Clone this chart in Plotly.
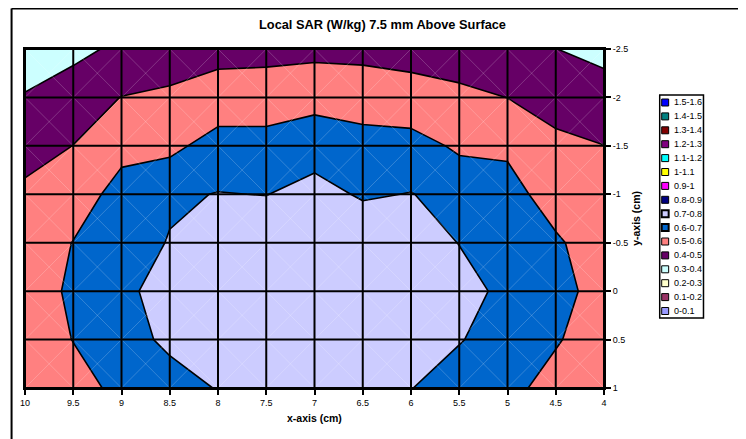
import plotly.graph_objects as go

# ---------------- data ----------------
x_cm = [10, 9.5, 9, 8.5, 8, 7.5, 7, 6.5, 6, 5.5, 5, 4.5, 4]
y_cm = [-2.5, -2, -1.5, -1, -0.5, 0, 0.5, 1]
x_ticktext = ["10", "9.5", "9", "8.5", "8", "7.5", "7", "6.5", "6", "5.5", "5", "4.5", "4"]
y_ticktext = ["-2.5", "-2", "-1.5", "-1", "-0.5", "0", "0.5", "1"]

# SAR (W/kg) per row of y, columns follow x_cm
sar_y_m2_5 = [0.36, 0.374, 0.42, 0.437, 0.477, 0.485, 0.475, 0.488, 0.473, 0.43, 0.43, 0.401, 0.373]
sar_y_m2_0 = [0.405, 0.45, 0.502, 0.52, 0.532, 0.525, 0.565, 0.524, 0.529, 0.53, 0.499, 0.464, 0.44]
sar_y_m1_5 = [0.461, 0.501, 0.58, 0.573, 0.645, 0.65, 0.662, 0.66, 0.64, 0.584, 0.581, 0.52, 0.501]
sar_y_m1_0 = [0.52, 0.565, 0.625, 0.687, 0.703, 0.698, 0.73, 0.69, 0.703, 0.665, 0.64, 0.55, 0.53]
sar_y_m0_5 = [0.55, 0.602, 0.655, 0.705, 0.745, 0.765, 0.775, 0.765, 0.74, 0.698, 0.66, 0.615, 0.54]
sar_y_0_0 = [0.56, 0.613, 0.68, 0.735, 0.77, 0.785, 0.79, 0.785, 0.77, 0.73, 0.68, 0.635, 0.56]
sar_y_0_5 = [0.55, 0.602, 0.66, 0.72, 0.755, 0.775, 0.78, 0.775, 0.755, 0.705, 0.66, 0.61, 0.54]
sar_y_1_0 = [0.53, 0.57, 0.62, 0.66, 0.705, 0.74, 0.75, 0.74, 0.702, 0.66, 0.63, 0.56, 0.52]

band_labels = ["0-0.1", "0.1-0.2", "0.2-0.3", "0.3-0.4", "0.4-0.5", "0.5-0.6", "0.6-0.7", "0.7-0.8",
               "0.8-0.9", "0.9-1", "1-1.1", "1.1-1.2", "1.2-1.3", "1.3-1.4", "1.4-1.5", "1.5-1.6"]
band_colors = ["#9999FF", "#993366", "#FFFFCC", "#CCFFFF", "#660066", "#FF8080", "#0066CC", "#CCCCFF",
               "#000080", "#FF00FF", "#FFFF00", "#00FFFF", "#800080", "#800000", "#008080", "#0000FF"]
level_start, level_end, level_step = 0.0, 1.6, 0.1

z = [sar_y_m2_5, sar_y_m2_0, sar_y_m1_5, sar_y_m1_0, sar_y_m0_5, sar_y_0_0, sar_y_0_5, sar_y_1_0]

# ---------------- layout geometry (page pixels; page body has an 8px margin) ----------------
OFF = 8
W, H = 746 - OFF, 439 - OFF
PL, PR, PT, PB = 22, 604, 49, 388  # plot area in page pixels
FONT = "Arial, Liberation Sans, sans-serif"


def px(xp):
    return (xp - PL) / (PR - PL)


def py(yp):
    return (PB - yp) / (PB - PT)


# stepwise colour scale matched to plotly's fill colour lookup (band k sampled at (k+1)/(n+1))
n_bands = len(band_colors)
ncs = n_bands + 1
colorscale = []
edges = [0.0] + [(k + 1.5) / ncs for k in range(n_bands - 1)] + [1.0]
for k, col in enumerate(band_colors):
    colorscale.append([edges[k], col])
    colorscale.append([edges[k + 1], col])

fig = go.Figure()
fig.add_trace(go.Contour(
    x=x_cm, y=y_cm, z=z,
    autocontour=False,
    contours=dict(coloring="fill", start=level_start, end=level_end, size=level_step, showlines=True),
    colorscale=colorscale,
    line=dict(color="black", width=1.6, smoothing=0),
    showscale=False, hoverinfo="skip", showlegend=False,
))

# faint triangulation edges of the surface cells (both diagonals of each grid cell)
dx, dy = [], []
for i in range(len(x_cm) - 1):
    for j in range(len(y_cm) - 1):
        dx += [x_cm[i], x_cm[i + 1], None, x_cm[i], x_cm[i + 1], None]
        dy += [y_cm[j], y_cm[j + 1], None, y_cm[j + 1], y_cm[j], None]
fig.add_trace(go.Scatter(x=dx, y=dy, mode="lines", line=dict(color="rgba(255,255,255,0.2)", width=1),
                         hoverinfo="skip", showlegend=False))

shapes = []
# grid lines on top of the fills
for xv in x_cm:
    shapes.append(dict(type="line", xref="x", yref="y", x0=xv, x1=xv, y0=y_cm[0], y1=y_cm[-1],
                       line=dict(color="black", width=2), layer="above"))
for yv in y_cm:
    shapes.append(dict(type="line", xref="x", yref="y", x0=x_cm[0], x1=x_cm[-1], y0=yv, y1=yv,
                       line=dict(color="black", width=2), layer="above"))

# chart-area frame (top and left visible)
shapes.append(dict(type="line", xref="paper", yref="paper", x0=px(8.5), x1=px(800), y0=py(8.5), y1=py(8.5),
                   line=dict(color="black", width=2)))
shapes.append(dict(type="line", xref="paper", yref="paper", x0=px(8.5), x1=px(8.5), y0=py(8.5), y1=py(500),
                   line=dict(color="black", width=2)))

# legend box
shapes.append(dict(type="rect", xref="paper", yref="paper", x0=px(660), x1=px(704), y0=py(318), y1=py(95),
                   line=dict(color="black", width=1.5), fillcolor="white"))

annotations = []
top_c, bot_c = 102.5, 311.0
step = (bot_c - top_c) / (n_bands - 1)
for i in range(n_bands):
    k = n_bands - 1 - i  # top entry is the highest band
    cy = top_c + i * step
    thick = band_labels[k] in ("0.7-0.8", "0.6-0.7")
    shapes.append(dict(type="rect", xref="paper", yref="paper",
                       x0=px(662), x1=px(669), y0=py(cy + 3.5), y1=py(cy - 3.5),
                       fillcolor=band_colors[k], line=dict(color="black", width=2 if thick else 1)))
    annotations.append(dict(xref="paper", yref="paper", x=px(672), y=py(cy), text=band_labels[k],
                            showarrow=False, xanchor="left", yanchor="middle",
                            font=dict(family=FONT, size=9, color="black")))

# titles
annotations.append(dict(xref="paper", yref="paper", x=px(381.5), y=py(25),
                        text="<b>Local SAR (W/kg) 7.5 mm Above Surface</b>", showarrow=False,
                        xanchor="center", yanchor="middle", font=dict(family=FONT, size=12.8, color="black")))
annotations.append(dict(xref="paper", yref="paper", x=px(313), y=py(418),
                        text="<b>x-axis (cm)</b>", showarrow=False,
                        xanchor="center", yanchor="middle", font=dict(family=FONT, size=10.5, color="black")))
annotations.append(dict(xref="paper", yref="paper", x=px(636), y=py(218),
                        text="<b>y-axis (cm)</b>", showarrow=False, textangle=-90,
                        xanchor="center", yanchor="middle", font=dict(family=FONT, size=10.5, color="black")))

fig.update_layout(
    width=W, height=H,
    margin=dict(l=PL - OFF, r=(W + OFF) - PR, t=PT - OFF, b=(H + OFF) - PB, pad=0),
    paper_bgcolor="white", plot_bgcolor="white",
    font=dict(family=FONT, size=9, color="black"),
    showlegend=False,
    shapes=shapes,
    annotations=annotations,
    xaxis=dict(range=[x_cm[0], x_cm[-1]], tickvals=x_cm, ticktext=x_ticktext,
               showgrid=False, zeroline=False, showline=True, mirror=True,
               linecolor="black", linewidth=2, ticks="outside", ticklen=5, tickwidth=2,
               tickcolor="black", tickfont=dict(family=FONT, size=9, color="black")),
    yaxis=dict(range=[y_cm[-1], y_cm[0]], tickvals=y_cm, ticktext=y_ticktext, side="right",
               showgrid=False, zeroline=False, showline=True, mirror=True,
               linecolor="black", linewidth=2, ticks="outside", ticklen=5, tickwidth=2,
               tickcolor="black", tickfont=dict(family=FONT, size=9, color="black")),
)

fig.write_html("out.html")
